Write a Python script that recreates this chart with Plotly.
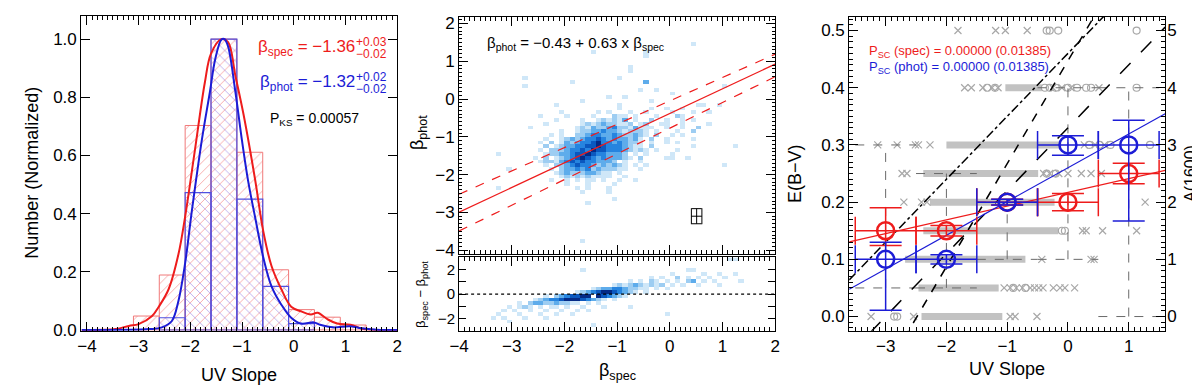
import plotly.graph_objects as go

W, H = 1200, 390
FONT = "Liberation Sans, Arial, Helvetica, sans-serif"
RED = "#ee1c1c"
BLUE = "#1c1cd6"
GRAY = "#a8a8a8"
DGRAY = "#6a6a6a"

# ---------------- Panel 1: UV slope distributions ----------------
spec_bin_centers = [-2.85, -2.35, -1.85, -1.35, -0.85, -0.35, 0.15, 0.65, 1.15]
spec_hist = [0.048, 0.189, 0.703, 1.0, 0.611, 0.207, 0.070, 0.044, 0.017]
phot_bin_centers = [-2.35, -1.85, -1.35, -0.85, -0.35, 0.15]
phot_hist = [0.042, 0.472, 1.0, 0.450, 0.150, 0.022]
bin_width = 0.5

spec_kde_x = [-4.1, -3.44, -3.19, -3.0, -2.74, -2.61, -2.42, -2.23, -2.1, -1.91, -1.72, -1.6, -1.4,
              -1.27, -1.13, -0.97, -0.75, -0.59, -0.43, -0.24, -0.05, 0.14, 0.33, 0.46, 0.65, 0.84,
              1.1, 1.35, 1.67, 2.0]
spec_kde_y = [0.0, 0.003, 0.014, 0.02, 0.048, 0.08, 0.14, 0.26, 0.39, 0.62, 0.85, 0.95, 1.0,
              0.99, 0.875, 0.74, 0.52, 0.34, 0.22, 0.14, 0.08, 0.064, 0.053, 0.059, 0.037, 0.022,
              0.018, 0.003, 0.0, 0.0]
phot_kde_x = [-4.1, -2.79, -2.55, -2.36, -2.23, -2.1, -1.97, -1.78, -1.62, -1.52, -1.4, -1.34, -1.27,
              -1.13, -1.0, -0.88, -0.75, -0.59, -0.43, -0.24, -0.05, 0.14, 0.39, 0.51, 0.76, 1.08,
              1.27, 1.67, 2.0]
phot_kde_y = [0.0, 0.003, 0.009, 0.03, 0.1, 0.23, 0.41, 0.65, 0.82, 0.93, 0.998, 1.0, 0.975,
              0.82, 0.65, 0.51, 0.39, 0.25, 0.15, 0.087, 0.042, 0.022, 0.026, 0.018, 0.009, 0.013,
              0.007, 0.0, 0.0]

# ---------------- Panel 2: beta_spec vs beta_phot 2D histogram ----------------
# rows of the core (cell centres: x = core_x0 + 0.1*i, y from core_y0 downwards in 0.1 steps)
core_rows = [
    "..................1.....1..1",
    ".......1......1.1...1..1....1...1",
    "........1....1...211.1...1....1",
    "......1....1..121213.1..2..1....1",
    "....1......1212322112.12...1..1",
    "..........121322342213111..1..1..2",
    ".......1..12233433212221.1...1",
    ".....1.1..22344334322321.2..1.1",
    "....1..1232344543433231.2..1",
    "...1.2.1323445644343221.1..1",
    "....2.12334455654443211.2",
    "...1.2223445465544432121.1...1",
    "....1223345565443332.1.1",
    "..1.2.123456543433321.2....1",
    "...122134545443332.1..1",
    "....1.22345443232321.1.1",
    ".....1.2334342322211..1",
    "......12322233211.1",
    ".......1212121111..1",
    ".....1..1.1.11.1..1..1",
    "........1...1....1",
    "..........1.1...1",
    "...........1....1",
]
core_x0 = -2.75
core_y0 = -0.25
# isolated cells (x, y, level)
outlier_cells = [
    (0.45, 1.45, 1), (-1.45, 1.25, 1), (-0.45, 1.25, 1), (-0.45, 1.15, 1), (-0.75, 0.85, 1),
    (-0.75, 0.75, 1), (-0.95, 0.55, 1), (-0.45, 0.45, 3), (-1.85, 0.45, 1), (-2.75, 0.55, 1),
    (-2.75, 0.35, 1), (-0.25, 0.25, 1), (-0.55, 0.25, 1), (0.05, 0.15, 1), (1.05, 0.35, 1),
    (-1.15, 0.05, 1), (-0.85, 0.05, 1), (-0.35, -0.05, 1), (-1.65, -0.05, 1), (-2.15, -0.15, 1),
    (-0.95, -0.15, 1), (0.55, -0.15, 1), (0.65, -0.15, 1), (0.95, -0.15, 1), (0.25, -0.25, 1),
    (0.75, -0.35, 1), (0.25, -0.55, 1), (0.75, -0.65, 1), (0.25, -0.75, 1), (0.25, -0.95, 1),
    (0.45, -0.85, 2), (0.45, -1.05, 1), (0.45, -1.25, 1), (1.25, -1.25, 1), (1.05, -1.75, 1),
    (0.05, -1.45, 1), (0.05, -1.55, 1), (-3.25, -1.45, 1), (-3.05, -1.85, 1), (-3.25, -2.35, 1),
    (-1.55, -2.75, 1), (-1.05, -2.65, 1), (-1.65, -3.75, 1), (-2.65, -0.75, 1), (-2.45, -0.45, 1),
    (0.15, -0.45, 2), (-0.15, -0.65, 1), (0.15, -1.15, 1), (-0.05, -1.05, 1), (0.35, -1.55, 1),
]
fit_line_x = [-4.0, 2.0]
fit_coef = (-0.38, 0.653)
fit_upper_coef = (-0.047, 0.618)
fit_lower_coef = (-0.77, 0.68)
typ_err = dict(x=0.51, y=-3.1, ex=0.1, ey=0.2)

# residual (beta_spec - beta_phot) cells: row centre -> {column index: level}, x = resid_x0 + 0.1*i
resid_cells = {
    2.85: {46: 1, 47: 1},
    1.95: {18: 1, 38: 1, 39: 1},
    1.65: {35: 1, 41: 1, 44: 1, 47: 1},
    1.35: {31: 1, 33: 1, 36: 2, 38: 1, 40: 1, 42: 1, 45: 1},
    1.05: {27: 1, 29: 1, 31: 2, 32: 1, 34: 1, 36: 1, 38: 2, 39: 3, 41: 1, 43: 1, 48: 1},
    0.75: {24: 1, 25: 2, 26: 1, 27: 2, 28: 3, 29: 2, 30: 1, 31: 2, 32: 1, 33: 2, 35: 1, 37: 1, 40: 1, 44: 1},
    0.45: {20: 1, 21: 2, 22: 3, 23: 3, 24: 4, 25: 4, 26: 3, 27: 2, 28: 2, 29: 1, 30: 1, 32: 1, 34: 1},
    0.15: {17: 1, 18: 2, 19: 3, 20: 4, 21: 5, 22: 6, 23: 6, 24: 5, 25: 4, 26: 3, 27: 2, 28: 1, 30: 1},
    -0.15: {11: 1, 13: 2, 14: 3, 15: 4, 16: 5, 17: 5, 18: 6, 19: 6, 20: 7, 21: 6, 22: 5, 23: 4, 24: 3, 25: 2, 26: 1},
    -0.45: {9: 1, 10: 2, 11: 3, 12: 4, 13: 4, 14: 5, 15: 6, 16: 6, 17: 6, 18: 5, 19: 4, 20: 3, 21: 2, 22: 1, 24: 1},
    -0.75: {6: 1, 8: 2, 9: 3, 10: 3, 11: 2, 12: 2, 13: 3, 14: 2, 15: 2, 16: 1, 17: 1, 19: 1, 21: 1},
    -1.05: {4: 1, 6: 1, 7: 2, 8: 1, 10: 1, 12: 1, 13: 1, 15: 1, 18: 1, 22: 1, 27: 1},
    -1.35: {3: 1, 5: 1, 8: 1, 11: 1, 14: 1, 17: 1, 19: 1},
    -1.65: {2: 1, 6: 1, 10: 1, 13: 1, 16: 1, 34: 1},
    -1.95: {1: 1, 3: 1, 7: 1, 11: 1},
    -2.25: {4: 1},
    -2.55: {20: 1},
}
resid_x0 = -3.45

level_colors = ["#cfe7f8", "#9dcdf2", "#5eaceb", "#2684df", "#0b58bf", "#042a86", "#ffffff"]

# ---------------- Panel 3: E(B-V) vs UV slope ----------------
row_levels = [0.0, 0.05, 0.1, 0.15, 0.2, 0.25, 0.3, 0.4, 0.5]
band_start = [-2.41, -2.46, -2.68, -2.38, -2.27, -2.38, -2.0, -1.03, None]
band_end = [-1.08, -1.14, -0.70, -0.16, -0.22, -0.49, -0.11, -0.43, None]
row_x_marks = [
    [-3.24, -2.54, -0.95, -0.87, -0.51],
    [-1.05, -0.95, -0.85, -0.75, -0.62, -0.55, -0.48, -0.41, -0.24, -0.13, -0.05, 0.11],
    [-0.43, 0.38, 0.43],
    [0.24, 0.30, 0.57, 1.13],
    [-2.70, -2.41, -2.32, 1.27],
    [-2.73, -2.65, -0.40, -0.30, -0.15, 0.0, 0.22, 0.38, 0.55],
    [-3.13, -2.81, -2.51, -2.46, -2.27, 0.27, 0.45, 0.60],
    [-1.70, -1.59, -1.40, -1.25, -1.15, -0.25, -0.10, 0.05, 0.51],
    [-1.81, -1.19, -1.03, -0.67],
]
row_o_marks = [
    [-2.86, -2.81],
    [-0.9, -0.7],
    [],
    [-0.1, -0.05],
    [],
    [-0.35, -0.2],
    [0.35, 0.52, 0.70, 1.35],
    [-1.33, -1.2, -0.38, -0.3, -0.2, 0.0, 0.15, 0.3, 0.38, 1.13],
    [-0.35, -0.30, -0.16, 1.13],
]
box_centers = [-3, -2, -1, 0, 1]
box_low = [0.05, 0.05, 0.1, 0.1, 0.0]
box_high = [0.3, 0.25, 0.2, 0.4, 0.4]

bin_x = [-3, -2, -1, 0, 1]
spec_ebv = [0.15, 0.15, 0.20, 0.20, 0.25]
spec_err_plus = [0.04, 0.009, 0.005, 0.015, 0.018]
spec_err_minus = [0.026, 0.009, 0.005, 0.015, 0.018]
phot_ebv = [0.10, 0.10, 0.20, 0.30, 0.30]
phot_err_plus = [0.03, 0.008, 0.005, 0.016, 0.043]
phot_err_minus = [0.089, 0.008, 0.005, 0.018, 0.133]
bin_half_width = [0.5, 0.5, 0.5, 0.5, 0.5]

spec_fit = (0.217, 0.024)
phot_fit = (0.26, 0.059)
ref_dashdot = (0.46, 0.11)
ref_shortdash = (0.447, 0.18)
ref_longdash = (0.33, 0.11)
line_x = [-3.6, 1.6]
a1600_ticks = [0, 1, 2, 3, 4, 5]


# ---------------- helpers ----------------
def fx(p):
    return p / W


def fy(p):
    return 1 - p / H


def lin(coef, xs):
    return [coef[0] + coef[1] * x for x in xs]


def discrete_scale(colors):
    n = len(colors)
    cs = []
    for k, c in enumerate(colors):
        cs.append([k / n, c])
        cs.append([(k + 1) / n, c])
    return cs


fig = go.Figure()

# Panel 1 bars
fig.add_trace(go.Bar(x=spec_bin_centers, y=spec_hist, width=bin_width, xaxis="x", yaxis="y",
                     marker=dict(color="rgba(0,0,0,0)", line=dict(color="#f07a7a", width=1),
                                 pattern=dict(shape="/", fgcolor="#f05a5a", bgcolor="rgba(0,0,0,0)",
                                              size=7, solidity=0.14, fillmode="overlay"))))
fig.add_trace(go.Bar(x=phot_bin_centers, y=phot_hist, width=bin_width, xaxis="x", yaxis="y",
                     marker=dict(color="rgba(0,0,0,0)", line=dict(color="#5050e0", width=1.2),
                                 pattern=dict(shape="\\", fgcolor="#6a4ad8", bgcolor="rgba(0,0,0,0)",
                                              size=7, solidity=0.12, fillmode="overlay"))))
fig.add_trace(go.Scatter(x=spec_kde_x, y=spec_kde_y, mode="lines", line=dict(color=RED, width=2, shape="spline"),
                         xaxis="x", yaxis="y"))
fig.add_trace(go.Scatter(x=phot_kde_x, y=phot_kde_y, mode="lines", line=dict(color=BLUE, width=2, shape="spline"),
                         xaxis="x", yaxis="y"))

# Panel 2 heatmap (top)
nx, ny = 61, 63
hx = [-4.0 + 0.1 * i + 0.05 for i in range(nx)]
hy = [-4.1 + 0.1 * j + 0.05 for j in range(ny)]
z = [[None] * nx for _ in range(ny)]


def put(zz, xs, ys, x, y, v):
    i = min(range(len(xs)), key=lambda k: abs(xs[k] - x))
    j = min(range(len(ys)), key=lambda k: abs(ys[k] - y))
    zz[j][i] = v


for r, row in enumerate(core_rows):
    y = core_y0 - 0.1 * r
    for i, ch in enumerate(row):
        if ch != ".":
            put(z, hx, hy, core_x0 + 0.1 * i, y, int(ch))
for (x, y, v) in outlier_cells:
    put(z, hx, hy, x, y, v)

cs = discrete_scale(level_colors)
fig.add_trace(go.Heatmap(x=hx, y=hy, z=z, colorscale=cs, zmin=0.5, zmax=7.5, showscale=False,
                         xaxis="x2", yaxis="y2", hoverinfo="skip"))
fig.add_trace(go.Scatter(x=fit_line_x, y=lin(fit_coef, fit_line_x), mode="lines",
                         line=dict(color=RED, width=1.2), xaxis="x2", yaxis="y2"))
for c in (fit_upper_coef, fit_lower_coef):
    fig.add_trace(go.Scatter(x=fit_line_x, y=lin(c, fit_line_x), mode="lines",
                             line=dict(color=RED, width=1.2, dash="dash"), xaxis="x2", yaxis="y2"))
fig.add_trace(go.Scatter(x=[typ_err["x"]], y=[typ_err["y"]], mode="markers", marker=dict(size=1, color="black"),
                         error_x=dict(type="constant", value=typ_err["ex"], color="black", thickness=1, width=8),
                         error_y=dict(type="constant", value=typ_err["ey"], color="black", thickness=1, width=5),
                         xaxis="x2", yaxis="y2"))

# Panel 2 residual heatmap (bottom)
rx = [-4.0 + 0.1 * i + 0.05 for i in range(60)]
ry = [-2.85 + 0.3 * j for j in range(20)]
rz = [[None] * len(rx) for _ in range(len(ry))]
for yc, cells in resid_cells.items():
    for i, v in cells.items():
        put(rz, rx, ry, resid_x0 + 0.1 * i, yc, v)
fig.add_trace(go.Heatmap(x=rx, y=ry, z=rz, colorscale=cs, zmin=0.5, zmax=7.5, showscale=False,
                         xaxis="x3", yaxis="y3", hoverinfo="skip"))
fig.add_trace(go.Scatter(x=[-4, 2], y=[0, 0], mode="lines", line=dict(color="black", width=1.2, dash="dot"),
                         xaxis="x3", yaxis="y3"))

# Panel 3
for k, lev in enumerate(row_levels):
    if band_start[k] is not None:
        fig.add_trace(go.Scatter(x=[band_start[k], band_end[k]], y=[lev, lev], mode="lines",
                                 line=dict(color="#c2c2c2", width=7), xaxis="x4", yaxis="y4"))
    if row_x_marks[k]:
        fig.add_trace(go.Scatter(x=row_x_marks[k], y=[lev] * len(row_x_marks[k]), mode="markers",
                                 marker=dict(symbol="x-thin-open", size=7, color=GRAY,
                                             line=dict(color=GRAY, width=1.2)),
                                 xaxis="x4", yaxis="y4"))
    if row_o_marks[k]:
        fig.add_trace(go.Scatter(x=row_o_marks[k], y=[lev] * len(row_o_marks[k]), mode="markers",
                                 marker=dict(symbol="circle-open", size=7, color=GRAY,
                                             line=dict(color=GRAY, width=1.2)),
                                 xaxis="x4", yaxis="y4"))
for k, c in enumerate(box_centers):
    fig.add_trace(go.Scatter(x=[c, c], y=[box_low[k], box_high[k]], mode="lines",
                             line=dict(color=DGRAY, width=1, dash="dash"), xaxis="x4", yaxis="y4"))
    for lv in (box_low[k], box_high[k]):
        fig.add_trace(go.Scatter(x=[c - 0.5, c + 0.5], y=[lv, lv], mode="lines",
                                 line=dict(color=DGRAY, width=1, dash="dash"), xaxis="x4", yaxis="y4"))

fig.add_trace(go.Scatter(x=line_x, y=lin(ref_dashdot, line_x), mode="lines",
                         line=dict(color="black", width=1.5, dash="dashdot"), xaxis="x4", yaxis="y4"))
fig.add_trace(go.Scatter(x=line_x, y=lin(ref_shortdash, line_x), mode="lines",
                         line=dict(color="black", width=1.5, dash="dash"), xaxis="x4", yaxis="y4"))
fig.add_trace(go.Scatter(x=line_x, y=lin(ref_longdash, line_x), mode="lines",
                         line=dict(color="black", width=1.5, dash="longdash"), xaxis="x4", yaxis="y4"))
fig.add_trace(go.Scatter(x=line_x, y=lin(spec_fit, line_x), mode="lines",
                         line=dict(color=RED, width=1.2), xaxis="x4", yaxis="y4"))
fig.add_trace(go.Scatter(x=line_x, y=lin(phot_fit, line_x), mode="lines",
                         line=dict(color=BLUE, width=1.2), xaxis="x4", yaxis="y4"))
for ys, ep, em, col in ((spec_ebv, spec_err_plus, spec_err_minus, RED),
                        (phot_ebv, phot_err_plus, phot_err_minus, BLUE)):
    fig.add_trace(go.Scatter(
        x=bin_x, y=ys, mode="markers",
        marker=dict(symbol="circle-open", size=17, color=col, line=dict(width=2.5, color=col)),
        error_x=dict(type="data", array=bin_half_width, color=col, thickness=1.5, width=14),
        error_y=dict(type="data", array=ep, arrayminus=em, symmetric=False, color=col, thickness=1.5, width=16),
        xaxis="x4", yaxis="y4"))
# invisible trace so that the A(1600) axis is drawn
fig.add_trace(go.Scatter(x=[bin_x[0]] * len(a1600_ticks), y=a1600_ticks, mode="markers",
                         marker=dict(size=1, color="rgba(0,0,0,0)"), xaxis="x4", yaxis="y5", hoverinfo="skip"))

# ---------------- axes ----------------
tickfont = dict(family=FONT, size=17, color="black")


def ax(**kw):
    d = dict(showline=True, linecolor="black", linewidth=1, mirror="ticks", ticks="inside", ticklen=9,
             tickwidth=1, tickcolor="black", showgrid=False, zeroline=False, tickfont=tickfont)
    d.update(kw)
    return d


def minor(dt, tl=4):
    return dict(dtick=dt, ticks="inside", ticklen=tl, tickcolor="black", tickwidth=1, showgrid=False)


fig.update_layout(
    width=W, height=H, margin=dict(l=0, r=0, t=0, b=0),
    paper_bgcolor="white", plot_bgcolor="rgba(0,0,0,0)", showlegend=False, barmode="overlay",
    font=dict(family=FONT, color="black"),
    xaxis=ax(domain=[fx(64), fx(384)], range=[-4.11, 2], dtick=1, tick0=0, anchor="y", minor=minor(0.1)),
    yaxis=ax(domain=[fy(330), fy(5)], range=[-0.003, 1.08], dtick=0.2, tick0=0, tickformat=".1f", anchor="x"),
    xaxis2=ax(domain=[fx(446.7), fx(766.7)], range=[-4, 2], dtick=1, showticklabels=False, anchor="y2",
              minor=minor(0.1)),
    yaxis2=ax(domain=[fy(250.7), fy(6.7)], range=[-4.1, 2.16], dtick=1, tick0=0, anchor="x2", minor=minor(0.1, 3)),
    xaxis3=ax(domain=[fx(446.7), fx(766.7)], range=[-4, 2], dtick=1, tick0=0, anchor="y3", minor=minor(0.1)),
    yaxis3=ax(domain=[fy(330), fy(254.3)], range=[-3, 3], tickvals=[-2, -1, 0, 1, 2],
              ticktext=["\u22122", "", "0", "", "2"], anchor="x3", tickfont=dict(family=FONT, size=15, color="black"),
              ticklen=7),
    xaxis4=ax(domain=[fx(841.7), fx(1161.7)], range=[-3.6, 1.6], dtick=1, tick0=0, anchor="y4", minor=minor(0.1)),
    yaxis4=ax(domain=[fy(330), fy(6)], range=[-0.025, 0.524], dtick=0.1, tick0=0, tickformat=".1f", anchor="x4",
              minor=minor(0.01)),
    yaxis5=dict(overlaying="y4", side="right", anchor="x4", range=[-0.25, 5.24], tickvals=a1600_ticks,
                showline=False, ticks="", showgrid=False, zeroline=False, tickfont=tickfont, ticklabelstandoff=1),
)

# ---------------- text ----------------
ann = []


def text(x, y, s, size=17, color="black", angle=0, xanchor="center", yanchor="middle"):
    ann.append(dict(x=fx(x), y=fy(y), xref="paper", yref="paper", text=s, showarrow=False, textangle=angle,
                    xanchor=xanchor, yanchor=yanchor, font=dict(family=FONT, size=size, color=color)))


text(14, 167, "Number (Normalized)", 18, angle=-90)
text(224, 376, "UV Slope", 18)
text(343, 38, "\u03b2<sub>spec</sub> = \u22121.36", 17, RED, xanchor="right")
text(340, 32, "+0.03", 12, RED, xanchor="left")
text(340, 44, "\u22120.02", 12, RED, xanchor="left")
text(343, 74, "\u03b2<sub>phot</sub> = \u22121.32", 17, BLUE, xanchor="right")
text(340, 68, "+0.02", 12, BLUE, xanchor="left")
text(340, 80, "\u22120.02", 12, BLUE, xanchor="left")
text(253, 111, "P<sub>KS</sub> = 0.00057", 14, "black", xanchor="left")

text(405, 125, "\u03b2<sub>phot</sub>", 18, angle=-90)
text(408, 292, "\u03b2<sub>spec</sub> \u2212 \u03b2<sub>phot</sub>", 13, angle=-90)
text(607, 372, "\u03b2<sub>spec</sub>", 18)
text(473, 34, "\u03b2<sub>phot</sub> = \u22120.43 + 0.63 x \u03b2<sub>spec</sub>", 15, xanchor="left")

text(787, 168, "E(B\u2212V)", 18, angle=-90)
text(1188, 168, "A(1600)", 16, angle=-90)
text(1002, 369, "UV Slope", 18)
text(860, 42, "P<sub>SC</sub> (spec) = 0.00000 (0.01385)", 13, RED, xanchor="left")
text(860, 58, "P<sub>SC</sub> (phot) = 0.00000 (0.01385)", 13, BLUE, xanchor="left")

fig.update_layout(annotations=ann)
fig.write_html("out.html")
